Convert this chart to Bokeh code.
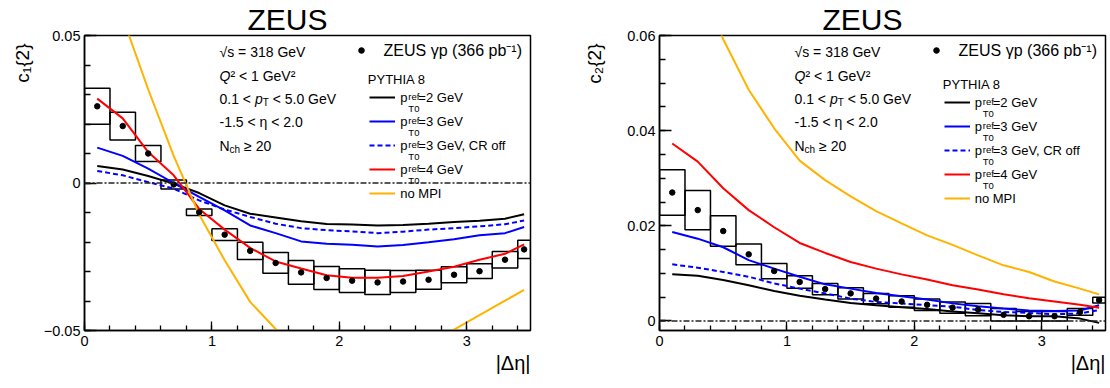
import math
from bokeh.plotting import figure
from bokeh.models import (Range1d, FixedTicker, CustomJSTickFormatter, Label, Span,
                          Legend, LegendItem, Title)
from bokeh.core.properties import value
from bokeh.layouts import row
from bokeh.embed import file_html
from bokeh.resources import INLINE

# ------------------------------------------------------------------ data
bin_edges = [0.0, 0.2, 0.4, 0.6, 0.8, 1.0, 1.2, 1.4, 1.6, 1.8, 2.0,
             2.2, 2.4, 2.6, 2.8, 3.0, 3.2, 3.4, 3.5]

# c1{2}
c1_zeus = [0.0260, 0.0193, 0.0100, -0.0005, -0.0099, -0.0175, -0.0230, -0.0271, -0.0303,
           -0.0322, -0.0331, -0.0337, -0.0334, -0.0328, -0.0311, -0.0299, -0.0260, -0.0225]
c1_zeus_syst = [0.0061, 0.0047, 0.0027, 0.0015, 0.0011, 0.0020, 0.0029, 0.0035, 0.0040,
                0.0039, 0.0040, 0.0041, 0.0037, 0.0032, 0.0027, 0.0025, 0.0028, 0.0031]
c1_pt2 = [0.0058, 0.0046, 0.0024, -0.0002, -0.0034, -0.0076, -0.0104, -0.0117, -0.0130,
          -0.0139, -0.0141, -0.0144, -0.0142, -0.0138, -0.0132, -0.0128, -0.0121, -0.0106]
c1_pt3 = [0.0120, 0.0092, 0.0049, 0.0000, -0.0047, -0.0093, -0.0144, -0.0170, -0.0198,
          -0.0206, -0.0209, -0.0215, -0.0210, -0.0201, -0.0191, -0.0177, -0.0170, -0.0149]
c1_pt3_croff = [0.0041, 0.0026, 0.0003, -0.0019, -0.0059, -0.0090, -0.0115, -0.0138, -0.0153,
                -0.0160, -0.0164, -0.0170, -0.0165, -0.0158, -0.0153, -0.0147, -0.0140, -0.0127]
c1_pt4 = [0.0286, 0.0219, 0.0105, 0.0026, -0.0088, -0.0158, -0.0220, -0.0266, -0.0290,
          -0.0313, -0.0321, -0.0321, -0.0315, -0.0300, -0.0284, -0.0260, -0.0240, -0.0208]
c1_nompi = [0.082, 0.056, 0.0317, 0.0092, -0.0107, -0.0262, -0.0403, -0.0495, -0.057,
            -0.062, -0.064, -0.063, -0.060, -0.0547, -0.0497, -0.0448, -0.0399, -0.0362]

# c2{2}
c2_zeus = [0.0270, 0.0233, 0.0189, 0.0140, 0.0105, 0.0082, 0.0067, 0.0058, 0.0047,
           0.0041, 0.0034, 0.0028, 0.0024, 0.0013, 0.0010, 0.0010, 0.0019, 0.0044]
c2_zeus_syst = [0.0048, 0.0041, 0.0032, 0.0022, 0.0016, 0.0013, 0.0012, 0.0012, 0.0011,
                0.0012, 0.0012, 0.0012, 0.0013, 0.0013, 0.0010, 0.0010, 0.0007, 0.0006]
c2_pt2 = [0.0098, 0.0095, 0.0086, 0.0075, 0.0063, 0.0053, 0.0045, 0.0038, 0.0033,
          0.0029, 0.0025, 0.0020, 0.0016, 0.0012, 0.0010, 0.0010, 0.0005, -0.0004]
c2_pt3 = [0.0187, 0.0173, 0.0155, 0.0128, 0.0110, 0.0093, 0.0077, 0.0068, 0.0059,
          0.0052, 0.0045, 0.0037, 0.0031, 0.0026, 0.0022, 0.0021, 0.0022, 0.0033]
c2_pt3_croff = [0.0119, 0.0112, 0.0103, 0.0093, 0.0079, 0.0068, 0.0058, 0.0047, 0.0040,
                0.0037, 0.0033, 0.0030, 0.0023, 0.0019, 0.0017, 0.0014, 0.0016, 0.0023]
c2_pt4 = [0.0373, 0.0335, 0.0279, 0.0233, 0.0197, 0.0164, 0.0143, 0.0124, 0.0110,
          0.0098, 0.0087, 0.0075, 0.0066, 0.0056, 0.0048, 0.0041, 0.0034, 0.0028]
c2_nompi = [0.088, 0.073, 0.0592, 0.0486, 0.0405, 0.0337, 0.0296, 0.0262, 0.0231,
            0.0205, 0.0180, 0.0160, 0.0138, 0.0117, 0.0103, 0.0083, 0.0068, 0.0056]

x_ticks = [0, 1, 2, 3]
c1_ticks = [-0.05, 0.0, 0.05]
c2_ticks = [0.0, 0.02, 0.04, 0.06]

title_text = "ZEUS"
x_title = "|Δη|"
c1_title = "c₁{2}"
c2_title = "c₂{2}"
data_label = "ZEUS γp (366 pb⁻¹)"
model_title = "PYTHIA 8"
model_labels = ["=2 GeV", "=3 GeV", "=3 GeV, CR off", "=4 GeV", "no MPI"]
info_sqrts = "√s = 318 GeV"
info_q2 = "² < 1 GeV²"
info_eta = "-1.5 < η < 2.0"

# ------------------------------------------------------------------ style
FONT = "Liberation Sans"
BLACK, BLUE, RED, ORANGE = "#000000", "#0000ff", "#ff0000", "#ffb300"
FRAME_BOTTOM = 330.0   # canvas y of the frame bottom (35 top border + 295 frame)

AW = {' ': 278, '\u00a0': 278, '(': 333, ')': 333, ',': 278, '-': 333, '.': 278, '<': 584,
      '=': 584, '>': 584, 'A': 667, 'C': 722, 'E': 667, 'G': 778, 'H': 722, 'I': 278,
      'M': 833, 'N': 722, 'P': 667, 'Q': 778, 'R': 722, 'S': 667, 'T': 611, 'U': 722,
      'V': 667, 'Y': 667, 'Z': 611, 'b': 556, 'c': 500, 'e': 556, 'f': 278, 'h': 556,
      'n': 556, 'o': 556, 'p': 556, 'r': 333, 's': 500, '{': 334, '}': 334, '|': 260}


def tw(s, size):
    return sum(AW.get(ch, 556) for ch in s) * size / 1000.0


def put(p, x, canvas_y, text, size, style="normal", align="left"):
    p.add_layout(Label(x=x, y=FRAME_BOTTOM - canvas_y, x_units="screen", y_units="screen",
                       text=text, text_font=FONT, text_font_size=f"{size}px",
                       text_font_style=style, text_align=align, text_baseline="alphabetic",
                       text_color="black"))


centers = [(a + b) / 2 for a, b in zip(bin_edges[:-1], bin_edges[1:])]
lefts = bin_edges[:-1]
rights = bin_edges[1:]


def make_panel(cfg):
    p = figure(width=cfg["width"], height=388, x_range=Range1d(0, 3.5),
               y_range=Range1d(*cfg["yrange"]), output_backend="svg",
               toolbar_location=None, title=None,
               min_border_left=cfg["bl"], min_border_right=cfg["br"],
               min_border_top=35, min_border_bottom=58)
    p.xgrid.visible = False
    p.ygrid.visible = False
    p.outline_line_color = "black"
    p.outline_line_width = 1.5
    p.background_fill_color = "white"
    p.border_fill_color = "white"

    xa = p.xaxis[0]
    xa.ticker = FixedTicker(ticks=x_ticks, minor_ticks=[0.2 * k for k in range(18)])
    xa.major_tick_in, xa.major_tick_out = 9, 0
    xa.minor_tick_in, xa.minor_tick_out = 5, 0
    xa.major_label_standoff = 5
    ya = p.yaxis[0]
    ya.ticker = FixedTicker(ticks=cfg["ticks"], minor_ticks=cfg["minor"])
    ya.major_tick_in, ya.major_tick_out = 12, 0
    ya.minor_tick_in, ya.minor_tick_out = 6, 0
    ya.major_label_standoff = 4
    ya.formatter = CustomJSTickFormatter(code="""
        if (Math.abs(tick) < 1e-12) return "0";
        return (tick < 0 ? "\\u2212" : "") + Math.abs(tick).toFixed(2);
    """)
    for ax in (xa, ya):
        ax.axis_line_width = 1.5
        ax.axis_line_color = "black"
        ax.major_tick_line_width = 1.3
        ax.minor_tick_line_width = 1.3
        ax.major_tick_line_color = "black"
        ax.minor_tick_line_color = "black"
        ax.major_label_text_font = FONT
        ax.major_label_text_font_size = "14.5px"
        ax.major_label_text_color = "black"
        ax.axis_label = None

    # titles in the side panels
    p.add_layout(Title(text=title_text, align="left", offset=163, standoff=0,
                       vertical_align="bottom", text_font=FONT, text_font_size="30px",
                       text_font_style="normal", text_color="black"), "above")
    p.add_layout(Title(text=x_title, align="right", offset=0, standoff=7,
                       vertical_align="top", text_font=FONT, text_font_size="20px",
                       text_font_style="normal", text_color="black"), "below")
    p.add_layout(Title(text=cfg["ytitle"], align="right", offset=8,
                       standoff=cfg["ytitle_standoff"], vertical_align="bottom",
                       text_font=FONT, text_font_size="19px",
                       text_font_style="normal", text_color="black"), "left")

    p.add_layout(Span(location=0, dimension="width", line_color="#222222",
                      line_width=1.3, line_dash="6 2 2 2"))

    data, syst = cfg["data"], cfg["syst"]
    p.quad(left=lefts, right=rights,
           bottom=[v - s for v, s in zip(data, syst)],
           top=[v + s for v, s in zip(data, syst)],
           fill_alpha=0, line_color="black", line_width=1.5)

    curves = []
    for arr, color, dash in cfg["curves"]:
        curves.append(p.line(centers, arr, line_color=color, line_width=2, line_dash=dash))
    pts = p.scatter(centers, data, size=5.5, color="black")

    # data legend
    leg_d = Legend(items=[LegendItem(label=value(data_label), renderers=[pts])],
                   location=(269.6, 269.2), glyph_width=14, glyph_height=20,
                   label_height=20, label_standoff=16, padding=0, margin=0, spacing=0,
                   border_line_alpha=0, background_fill_alpha=0,
                   label_text_font=FONT, label_text_font_size="16px",
                   label_text_color="black")
    p.add_layout(leg_d)

    # model legend
    first = cfg["leg_y0"]
    labels = ["p\u00a0\u00a0\u00a0" + t if i < 4 else t for i, t in enumerate(model_labels)]
    leg_m = Legend(items=[LegendItem(label=value(l), renderers=[r]) for l, r in zip(labels, curves)],
                   location=(cfg["leg_x"], FRAME_BOTTOM - (first - 12 + 120)),
                   glyph_width=26, glyph_height=24, label_height=24, label_standoff=5,
                   padding=0, margin=0, spacing=0, border_line_alpha=0,
                   background_fill_alpha=0, label_text_font=FONT,
                   label_text_font_size="13px", label_text_color="black")
    p.add_layout(leg_m)
    px = cfg["leg_x"] + 26 + 5 + tw("p", 13) + 0.3
    for i in range(4):
        ly = first + 24 * i
        put(p, px, ly - 1.0, "ref", 9.5)
        put(p, px, ly + 10.5, "T0", 9.5)
    put(p, 283.3, cfg["pythia_y"], model_title, 13)

    # info block
    ix = 135.0
    put(p, ix, 51.7, info_sqrts, 14)
    put(p, ix, 75.0, "Q", 14, style="italic")
    put(p, ix + tw("Q", 14), 75.0, info_q2, 14)
    put(p, ix, 98.3, "0.1 <", 14)
    x_p = ix + tw("0.1 < ", 14)
    put(p, x_p, 98.3, "p", 14, style="italic")
    x_t = x_p + tw("p", 14)
    put(p, x_t, 101.8, "T", 10)
    put(p, x_t + tw("T", 10) + tw(" ", 14), 98.3, "< 5.0 GeV", 14)
    put(p, ix, 121.7, info_eta, 14)
    put(p, ix, 145.0, "N", 14)
    x_ch = ix + tw("N", 14)
    put(p, x_ch, 148.5, "ch", 10)
    put(p, x_ch + tw("ch", 10) + tw(" ", 14), 145.0, "≥ 20", 14)
    return p


left_cfg = dict(width=552, bl=84, br=22, yrange=(-0.05, 0.05), ticks=c1_ticks,
                minor=[-0.05 + 0.01 * k for k in range(11)],
                data=c1_zeus, syst=c1_zeus_syst,
                curves=[(c1_pt2, BLACK, "solid"), (c1_pt3, BLUE, "solid"),
                        (c1_pt3_croff, BLUE, "5 3"), (c1_pt4, RED, "solid"),
                        (c1_nompi, ORANGE, "solid")],
                ytitle=c1_title, ytitle_standoff=15, pythia_y=79.3,
                leg_x=285.3, leg_y0=97.3)
right_cfg = dict(width=555, bl=107, br=2, yrange=(-0.002, 0.06), ticks=c2_ticks,
                 minor=[0.005 * k for k in range(13)],
                 data=c2_zeus, syst=c2_zeus_syst,
                 curves=[(c2_pt2, BLACK, "solid"), (c2_pt3, BLUE, "solid"),
                         (c2_pt3_croff, BLUE, "5 3"), (c2_pt4, RED, "solid"),
                         (c2_nompi, ORANGE, "solid")],
                 ytitle=c2_title, ytitle_standoff=39, pythia_y=83.7,
                 leg_x=284.7, leg_y0=102.1)

p1 = make_panel(left_cfg)
p2 = make_panel(right_cfg)
layout = row(p1, p2, spacing=0)

open("out.html", "w").write(file_html(layout, INLINE, title="ZEUS c1{2} c2{2}"))
